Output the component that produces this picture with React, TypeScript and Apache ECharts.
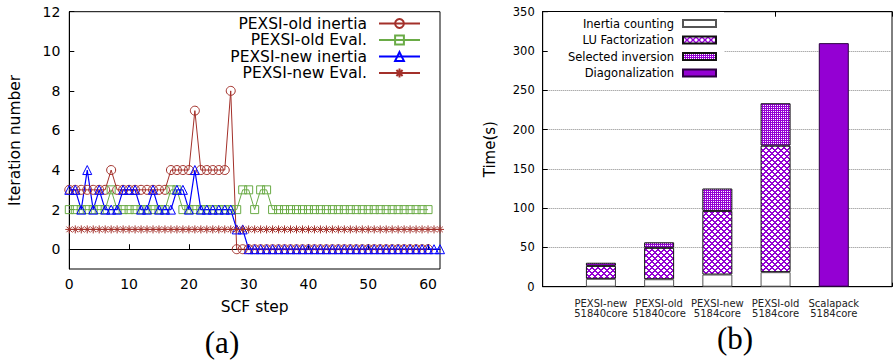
import React, { useEffect, useRef } from 'react';
import * as echarts from 'echarts';

// ---- Left chart (a) data ----
const oldInertia = [
  3, 3, 3, 3, 3, 3, 3, 4, 3, 3, 3, 3, 3, 3, 3, 3, 3, 4, 4, 4, 4, 7, 4, 4, 4, 4, 4, 8,
  0, 0, 0, 0, 0, 0, 0, 0, 0, 0, 0, 0, 0, 0, 0, 0, 0, 0, 0, 0, 0, 0, 0, 0, 0, 0, 0, 0, 0, 0, 0, 0, 0,
];
const oldEval = [
  2, 2, 2, 2, 2, 2, 2, 3, 2, 2, 2, 2, 2, 2, 2, 2, 2, 3, 3, 2, 2, 2, 2, 2, 2, 2, 2, 2, 2, 3, 3, 2, 3, 3,
  2, 2, 2, 2, 2, 2, 2, 2, 2, 2, 2, 2, 2, 2, 2, 2, 2, 2, 2, 2, 2, 2, 2, 2, 2, 2, 2,
];
const newInertia = [
  3, 3, 2, 4, 2, 3, 2, 2, 2, 3, 3, 3, 2, 2, 3, 2, 2, 2, 3, 3, 2, 4, 2, 2, 2, 2, 2, 2, 1, 1,
  0, 0, 0, 0, 0, 0, 0, 0, 0, 0, 0, 0, 0, 0, 0, 0, 0, 0, 0, 0, 0, 0, 0, 0, 0, 0, 0, 0, 0, 0, 0, 0, 0,
];
const newEval = [
  1, 1, 1, 1, 1, 1, 1, 1, 1, 1, 1, 1, 1, 1, 1, 1, 1, 1, 1, 1, 1, 1, 1, 1, 1, 1, 1, 1, 1, 1, 1, 1,
  1, 1, 1, 1, 1, 1, 1, 1, 1, 1, 1, 1, 1, 1, 1, 1, 1, 1, 1, 1, 1, 1, 1, 1, 1, 1, 1, 1, 1, 1, 1,
];
const xTickValues = [0, 10, 20, 30, 40, 50, 60];
const yTickValues = [0, 2, 4, 6, 8, 10, 12];

// ---- Right chart (b) data ----
const categories = [
  'PEXSI-new\n51840core',
  'PEXSI-old\n51840core',
  'PEXSI-new\n5184core',
  'PEXSI-old\n5184core',
  'Scalapack\n5184core',
];
const inertiaTime = [10, 9.5, 15.5, 18.5, null];
const luTime = [16.5, 40, 81, 161, null];
const selinvTime = [4, 7, 28.5, 54, null];
const diagTime = [null, null, null, null, 310];

const BROWN = '#a3302a';
const GREEN = '#6aab46';
const BLUE = '#0000ff';
const PURPLE = '#9400d3';
const STAR = 'path://M0 5H10M5 0V10M1.5 1.5L8.5 8.5M1.5 8.5L8.5 1.5';

function makePattern(size: number, draw: (ctx: CanvasRenderingContext2D) => void) {
  const c = document.createElement('canvas');
  c.width = size;
  c.height = size;
  const ctx = c.getContext('2d')!;
  draw(ctx);
  return { image: c, repeat: 'repeat', imageWidth: size, imageHeight: size } as any;
}

export default function App() {
  const ref = useRef<HTMLDivElement>(null);
  useEffect(() => {
    const chart = echarts.init(ref.current!, null, { renderer: 'svg' });

    const luPattern = makePattern(6, (ctx) => {
      ctx.fillStyle = '#ffffff';
      ctx.fillRect(0, 0, 6, 6);
      ctx.fillStyle = PURPLE;
      for (let i = 0; i < 6; i++) {
        ctx.fillRect(i, i, 1, 1);
        ctx.fillRect((i + 1) % 6, i, 1, 1);
        ctx.fillRect((6 - i) % 6, i, 1, 1);
        ctx.fillRect((7 - i) % 6, i, 1, 1);
      }
    });
    const selPattern = makePattern(4, (ctx) => {
      ctx.fillStyle = PURPLE;
      ctx.fillRect(0, 0, 4, 4);
      ctx.fillStyle = '#ffffff';
      ctx.fillRect(1, 1, 1, 1);
      ctx.fillRect(3, 3, 1, 1);
      ctx.fillRect(1, 3, 1, 1);
      ctx.fillRect(3, 1, 1, 1);
    });

    const pad = (arr: (number | null)[]) => [null, ...arr, null];
    const catsPadded = ['', ...categories, ''];
    const lineCommon = {
      type: 'line',
      xAxisIndex: 0,
      yAxisIndex: 0,
      emphasis: { disabled: true },
    };

    chart.setOption({
      animation: false,
      textStyle: { fontFamily: 'DejaVu Sans' },
      grid: [
        { left: 69.3, top: 11.7, width: 370.7, height: 257.3, show: true, borderColor: '#000', borderWidth: 1 },
        { left: 542.7, top: 11.7, width: 360, height: 275, show: true, borderColor: '#000', borderWidth: 1 },
      ],
      xAxis: [
        {
          gridIndex: 0,
          type: 'value',
          min: 0,
          max: 62,
          interval: 10,
          axisLine: { show: true, lineStyle: { color: '#000' } },
          axisTick: { show: true, inside: true, length: 5, lineStyle: { color: '#000' }, customValues: xTickValues },
          axisLabel: { customValues: xTickValues, fontSize: 14, color: '#000', margin: 8 },
          splitLine: { show: false },
          name: 'SCF step',
          nameLocation: 'middle',
          nameGap: 30,
          nameTextStyle: { fontSize: 15.5, color: '#000' },
        },
        {
          gridIndex: 1,
          type: 'category',
          data: catsPadded,
          boundaryGap: false,
          axisLine: { show: true, lineStyle: { color: '#000' } },
          axisTick: { show: true, inside: true, length: 4, lineStyle: { color: '#000' } },
          axisLabel: { interval: 0, fontSize: 10, lineHeight: 10, color: '#222', margin: 12 },
          splitLine: { show: false },
        },
        {
          gridIndex: 1,
          type: 'category',
          position: 'top',
          data: catsPadded,
          boundaryGap: false,
          axisLine: { show: true, lineStyle: { color: '#000' } },
          axisTick: { show: true, inside: true, length: 5, lineStyle: { color: '#000' } },
          axisLabel: { show: false },
          splitLine: { show: false },
        },
      ],
      yAxis: [
        {
          gridIndex: 0,
          type: 'value',
          min: -1,
          max: 12,
          axisLine: { show: true, lineStyle: { color: '#000' } },
          axisTick: { show: true, inside: true, length: 5, lineStyle: { color: '#000' }, customValues: yTickValues },
          axisLabel: { customValues: yTickValues, fontSize: 14, color: '#000', margin: 9 },
          splitLine: { show: false },
          name: 'Iteration number',
          nameLocation: 'middle',
          nameGap: 46,
          nameTextStyle: { fontSize: 15.5, color: '#000' },
        },
        {
          gridIndex: 1,
          type: 'value',
          min: 0,
          max: 350,
          interval: 50,
          axisLine: { show: true, lineStyle: { color: '#000' } },
          axisTick: { show: true, inside: true, length: 5, lineStyle: { color: '#000' } },
          axisLabel: { fontSize: 11.5, color: '#000', margin: 8 },
          splitLine: { show: true, lineStyle: { type: 'dotted', color: '#888', width: 1 } },
          name: 'Time(s)',
          nameLocation: 'middle',
          nameGap: 45,
          nameTextStyle: { fontSize: 15, color: '#000' },
        },
      ],
      legend: [
        {
          data: ['PEXSI-old inertia', 'PEXSI-old Eval.', 'PEXSI-new inertia', 'PEXSI-new Eval.'],
          orient: 'vertical',
          align: 'right',
          right: 474,
          top: 15.5,
          padding: 0,
          itemWidth: 41,
          itemHeight: 11,
          itemGap: 0.5,
          selectedMode: false,
          textStyle: { fontSize: 15.5, color: '#000', padding: [0, 7, 0, 0] },
        },
        {
          data: ['Inertia counting', 'LU Factorization', 'Selected inversion', 'Diagonalization'],
          orient: 'vertical',
          align: 'right',
          right: 171,
          top: 12,
          padding: [5.5, 7, 2.5, 20],
          backgroundColor: '#fff',
          icon: 'rect',
          itemWidth: 33,
          itemHeight: 7,
          itemGap: 4.5,
          selectedMode: false,
          textStyle: { fontSize: 11.5, color: '#000', padding: [0, 4, 0, 0] },
        },
      ],
      graphic: [
        {
          type: 'text',
          x: 222,
          y: 342,
          style: { text: '(a)', font: '31px "Liberation Serif"', fill: '#000', align: 'center', verticalAlign: 'middle' },
        },
        {
          type: 'text',
          x: 735,
          y: 338,
          style: { text: '(b)', font: '31px "Liberation Serif"', fill: '#000', align: 'center', verticalAlign: 'middle' },
        },
      ],
      series: [
        {
          ...lineCommon,
          name: 'PEXSI-old inertia',
          data: oldInertia.map((v, i) => [i, v]),
          symbol: 'circle',
          symbolSize: 9,
          lineStyle: { color: BROWN, width: 1 },
          itemStyle: { color: 'rgba(255,255,255,0)', borderColor: BROWN, borderWidth: 1 },
        },
        {
          ...lineCommon,
          name: 'PEXSI-old Eval.',
          data: oldEval.map((v, i) => [i, v]),
          symbol: 'rect',
          symbolSize: 8,
          lineStyle: { color: GREEN, width: 1 },
          itemStyle: { color: 'rgba(255,255,255,0)', borderColor: GREEN, borderWidth: 1 },
        },
        {
          ...lineCommon,
          name: 'PEXSI-new inertia',
          data: newInertia.map((v, i) => [i, v]),
          symbol: 'triangle',
          symbolSize: 9,
          lineStyle: { color: BLUE, width: 1.2 },
          itemStyle: { color: 'rgba(255,255,255,0)', borderColor: BLUE, borderWidth: 1 },
        },
        {
          ...lineCommon,
          name: 'PEXSI-new Eval.',
          data: newEval.map((v, i) => [i, v]),
          symbol: STAR,
          symbolSize: 8,
          lineStyle: { color: BROWN, width: 1 },
          itemStyle: { color: 'rgba(255,255,255,0)', borderColor: BROWN, borderWidth: 1 },
        },
        {
          type: 'bar',
          name: 'Inertia counting',
          xAxisIndex: 1,
          yAxisIndex: 1,
          stack: 'total',
          barWidth: 30,
          data: pad(inertiaTime),
          itemStyle: { color: '#ffffff', borderColor: '#555', borderWidth: 1 },
          emphasis: { disabled: true },
        },
        {
          type: 'bar',
          name: 'LU Factorization',
          xAxisIndex: 1,
          yAxisIndex: 1,
          stack: 'total',
          barWidth: 30,
          data: pad(luTime),
          itemStyle: { color: luPattern, borderColor: '#111', borderWidth: 1 },
          emphasis: { disabled: true },
        },
        {
          type: 'bar',
          name: 'Selected inversion',
          xAxisIndex: 1,
          yAxisIndex: 1,
          stack: 'total',
          barWidth: 30,
          data: pad(selinvTime),
          itemStyle: { color: selPattern, borderColor: '#111', borderWidth: 1 },
          emphasis: { disabled: true },
        },
        {
          type: 'bar',
          name: 'Diagonalization',
          xAxisIndex: 1,
          yAxisIndex: 1,
          stack: 'total',
          barWidth: 30,
          data: pad(diagTime),
          itemStyle: { color: PURPLE, borderColor: '#2a0040', borderWidth: 1 },
          emphasis: { disabled: true },
        },
      ],
    });
    return () => chart.dispose();
  }, []);

  return (
    <div
      ref={ref}
      style={{ position: 'fixed', left: 0, top: 0, width: 895, height: 360, background: '#fff' }}
    />
  );
}
